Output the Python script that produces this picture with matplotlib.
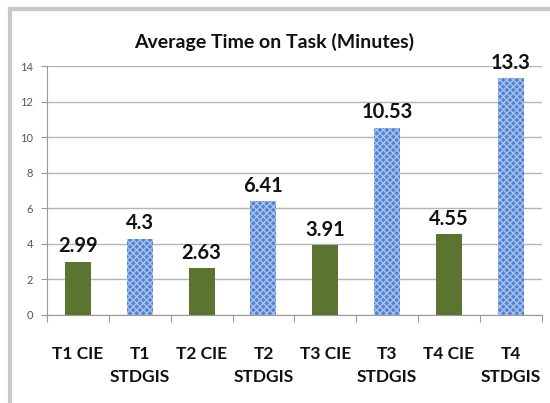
import matplotlib.pyplot as plt
from matplotlib.lines import Line2D

categories = ["T1 CIE", "T1\nSTDGIS", "T2 CIE", "T2\nSTDGIS",
              "T3 CIE", "T3\nSTDGIS", "T4 CIE", "T4\nSTDGIS"]
values = [2.99, 4.3, 2.63, 6.41, 3.91, 10.53, 4.55, 13.3]
labels = ["2.99", "4.3", "2.63", "6.41", "3.91", "10.53", "4.55", "13.3"]
yticks = [0, 2, 4, 6, 8, 10, 12, 14]

plt.rcParams["font.family"] = ["Lato", "DejaVu Sans"]

fig = plt.figure(figsize=(5.5, 4.03), dpi=100)
ax = fig.add_axes([0.0855, 0.2184, 0.8995, 0.6178])

# outer chart frame (left and top edges visible)
fig.add_artist(Line2D([10 / 550, 10 / 550], [0.0, 1 - 9 / 403], color="#c8c8c8", lw=3))
fig.add_artist(Line2D([10 / 550, 1.0], [1 - 9 / 403, 1 - 9 / 403], color="#c8c8c8", lw=3))

x = range(len(categories))
for i, v in enumerate(values):
    if i % 2 == 0:
        ax.bar(i, v, width=0.42, color="#5b7530", zorder=3)
    else:
        ax.bar(i, v, width=0.42, color="#5283d2", hatch="xxxxx",
               edgecolor="#a9c2ec", linewidth=0, zorder=3)
    ax.text(i, v + 0.3, labels[i], ha="center", va="bottom",
            fontsize=14.5, fontweight="bold", color="#111111")

ax.set_xlim(-0.5, 7.5)
ax.set_ylim(0, 14)
ax.set_yticks(yticks)
ax.set_yticklabels([str(t) for t in yticks], fontsize=8, color="#555555")
ax.tick_params(axis="y", length=4, color="#999999", pad=6)

ax.set_xticks([i + 0.5 for i in range(-1, 8)], minor=False)
ax.set_xticklabels([])
ax.tick_params(axis="x", length=5, color="#999999", direction="out")
ax.set_xticks(list(x), minor=True)
ax.set_xticklabels(categories, minor=True, fontsize=12.5, fontweight="bold",
                   color="#111111", linespacing=1.6)
ax.tick_params(axis="x", which="minor", length=0, pad=22)

ax.grid(axis="y", color="#b5b5b5", lw=1, zorder=0)
for s in ["top", "right"]:
    ax.spines[s].set_visible(False)
ax.spines["left"].set_color("#999999")
ax.spines["bottom"].set_color("#999999")

fig.text(0.498, 1 - 42 / 403, "Average Time on Task (Minutes)", ha="center",
         va="center", fontsize=14, fontweight="bold", color="#111111")

fig.savefig("out.png", dpi=100)
